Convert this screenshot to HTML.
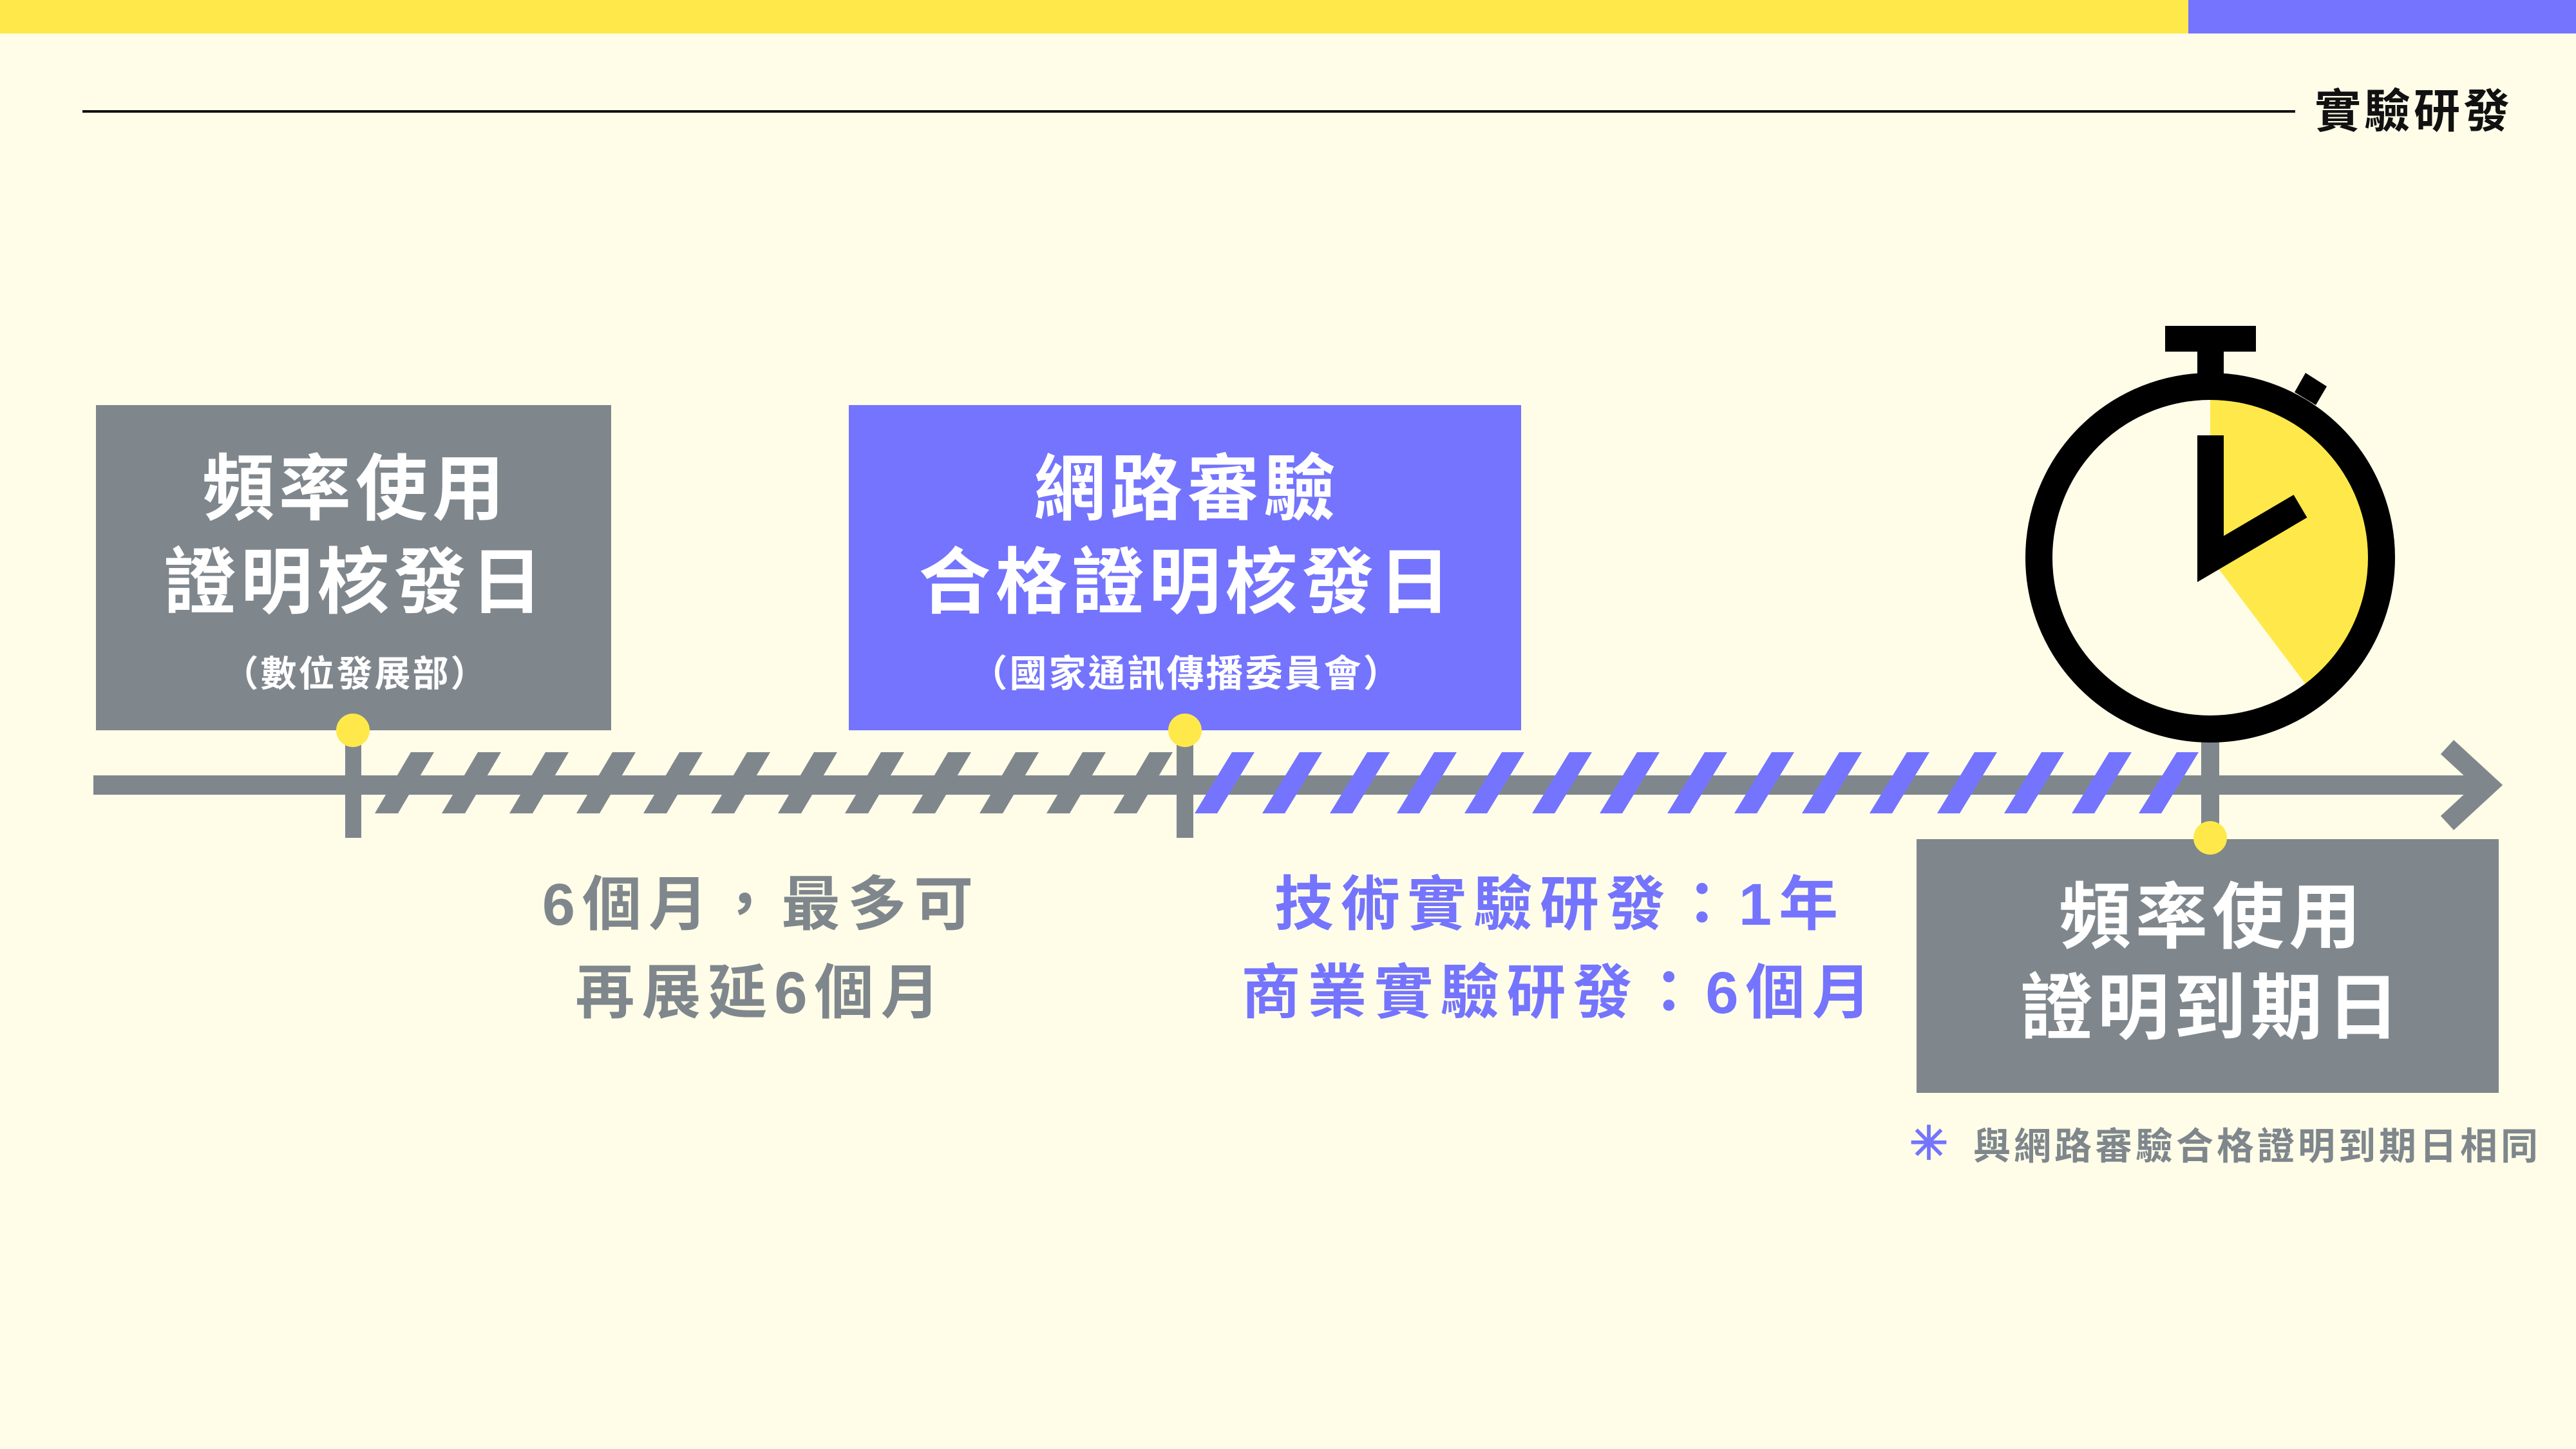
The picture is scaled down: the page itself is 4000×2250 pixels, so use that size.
<!DOCTYPE html>
<html><head><meta charset="utf-8"><style>
html,body{margin:0;padding:0;background:#fffde8;}
svg{display:block;}
text{font-family:"Liberation Sans","Noto Sans CJK TC",sans-serif;font-weight:bold;}
</style></head><body>
<svg width="4000" height="2250" viewBox="0 0 4000 2250" xmlns="http://www.w3.org/2000/svg">
<rect width="4000" height="2250" fill="#fffde8"/>
<rect x="0" y="0" width="3398" height="52" fill="#ffe94a"/>
<rect x="3398" y="0" width="602" height="52" fill="#7474fe"/>
<rect x="128" y="171" width="3436" height="4" fill="#111"/>
<text x="3748" y="198" font-size="72" text-anchor="middle" fill="#111" letter-spacing="5">實驗研發</text>

<rect x="149" y="629" width="800" height="505" fill="#7f878d"/>
<rect x="1318" y="629" width="1044" height="505" fill="#7474fe"/>
<rect x="2976" y="1303" width="904" height="394" fill="#7f878d"/>

<g fill="#fff" text-anchor="middle">
<text x="552" y="798" font-size="112" letter-spacing="7">頻率使用</text>
<text x="552" y="943" font-size="112" letter-spacing="7">證明核發日</text>
<text x="552" y="1066" font-size="56" letter-spacing="3">（數位發展部）</text>
<text x="1843" y="798" font-size="112" letter-spacing="7">網路審驗</text>
<text x="1843" y="943" font-size="112" letter-spacing="7">合格證明核發日</text>
<text x="1842" y="1066" font-size="58" letter-spacing="3">（國家通訊傳播委員會）</text>
<text x="3435" y="1463" font-size="112" letter-spacing="7">頻率使用</text>
<text x="3435" y="1604" font-size="112" letter-spacing="7">證明到期日</text>
</g>

<rect x="145" y="1204" width="3720" height="30" fill="#7f878d"/>
<polyline points="3800,1160 3864,1219 3800,1278" fill="none" stroke="#7f878d" stroke-width="30" stroke-linejoin="miter"/>
<rect x="536" y="1134" width="25" height="167" fill="#7f878d"/>
<rect x="1827" y="1134" width="26" height="167" fill="#7f878d"/>
<rect x="3418" y="1140" width="28" height="162" fill="#7f878d"/>

<g fill="#7f878d">
<polygon points="638,1168 674,1168 618,1263 582,1263"/>
<polygon points="742,1168 778,1168 722,1263 686,1263"/>
<polygon points="847,1168 883,1168 827,1263 791,1263"/>
<polygon points="951,1168 987,1168 931,1263 895,1263"/>
<polygon points="1055,1168 1091,1168 1035,1263 999,1263"/>
<polygon points="1160,1168 1196,1168 1140,1263 1104,1263"/>
<polygon points="1264,1168 1300,1168 1244,1263 1208,1263"/>
<polygon points="1368,1168 1404,1168 1348,1263 1312,1263"/>
<polygon points="1472,1168 1508,1168 1452,1263 1416,1263"/>
<polygon points="1577,1168 1613,1168 1557,1263 1521,1263"/>
<polygon points="1681,1168 1717,1168 1661,1263 1625,1263"/>
<polygon points="1785,1168 1821,1168 1765,1263 1729,1263"/>
</g>
<g fill="#7474fe">
<polygon points="1913,1168 1948,1168 1890,1263 1855,1263"/>
<polygon points="2018,1168 2053,1168 1995,1263 1960,1263"/>
<polygon points="2123,1168 2158,1168 2100,1263 2065,1263"/>
<polygon points="2227,1168 2262,1168 2204,1263 2169,1263"/>
<polygon points="2332,1168 2367,1168 2309,1263 2274,1263"/>
<polygon points="2437,1168 2472,1168 2414,1263 2379,1263"/>
<polygon points="2542,1168 2577,1168 2519,1263 2484,1263"/>
<polygon points="2647,1168 2682,1168 2624,1263 2589,1263"/>
<polygon points="2751,1168 2786,1168 2728,1263 2693,1263"/>
<polygon points="2856,1168 2891,1168 2833,1263 2798,1263"/>
<polygon points="2961,1168 2996,1168 2938,1263 2903,1263"/>
<polygon points="3066,1168 3101,1168 3043,1263 3008,1263"/>
<polygon points="3170,1168 3205,1168 3147,1263 3112,1263"/>
<polygon points="3275,1168 3310,1168 3252,1263 3217,1263"/>
<polygon points="3380,1168 3414,1168 3356,1263 3321,1263"/>
</g>

<circle cx="548" cy="1134" r="26" fill="#ffe94a"/>
<circle cx="1840" cy="1134" r="26" fill="#ffe94a"/>
<circle cx="3432" cy="1301" r="26" fill="#ffe94a"/>

<circle cx="3432" cy="866" r="266" fill="#fffde8"/>
<path d="M3432,866 L3432,600 A266,266 0 0 1 3592,1078 Z" fill="#ffe94a"/>
<circle cx="3432" cy="866" r="266" fill="none" stroke="#000" stroke-width="42"/>
<rect x="3362" y="506" width="141" height="40" fill="#000"/>
<rect x="3412" y="540" width="41" height="50" fill="#000"/>
<polygon points="3563,609 3580,579 3613,600 3596,629" fill="#000"/>
<polyline points="3432.5,676 3432.5,868 3572,786" fill="none" stroke="#000" stroke-width="41" stroke-linejoin="miter"/>

<g font-size="92" text-anchor="middle" letter-spacing="11">
<text x="1182" y="1436" fill="#7f878d">6個月，最多可</text>
<text x="1182" y="1573" fill="#7f878d">再展延6個月</text>
<text x="2422" y="1436" fill="#7474fe">技術實驗研發：1年</text>
<text x="2422" y="1573" fill="#7474fe">商業實驗研發：6個月</text>
</g>

<text x="2995" y="1800" font-size="72" text-anchor="middle" fill="#7474fe" font-weight="normal">✳</text>
<text x="3064" y="1800" font-size="58" fill="#7f878d" letter-spacing="5">與網路審驗合格證明到期日相同</text>
</svg>
</body></html>
